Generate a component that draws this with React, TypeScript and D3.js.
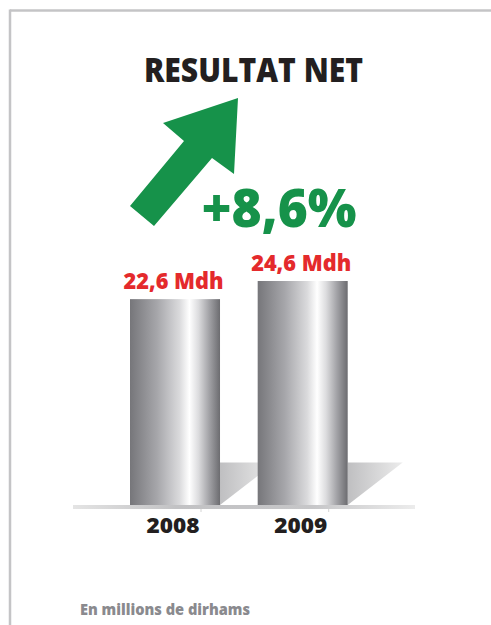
import React from "react";
import * as d3 from "d3";

const years = ["2008", "2009"];
const values = [22.6, 24.6];
const valueLabels = ["22,6 Mdh", "24,6 Mdh"];
const title = "RESULTAT NET";
const growthLabel = "+8,6%";
const footnote = "En millions de dirhams";

const W = 491;
const H = 625;
const FONT = "'Open Sans', 'Noto Sans', sans-serif";

export default function App() {
  const baseY = 505;
  const x = d3.scaleBand<string>().domain(years).range([130, 347.7]).paddingInner(0.295).paddingOuter(0);
  const y = d3.scaleLinear().domain([0, 24.6]).range([baseY, 282]);
  const bw = x.bandwidth();

  const arrow: [number, number][] = [
    [238, 98], [163, 123], [184, 141], [130, 206], [154, 226], [212, 158], [234, 174],
  ];
  const arrowPath = d3.line()(arrow) + "Z";

  return (
    <svg width={W} height={H} style={{ position: "absolute", left: 0, top: 0, background: "#fff" }}>
      <defs>
        <linearGradient id="barGrad" x1="0" x2="1" y1="0" y2="0">
          <stop offset="0" stopColor="#76767a" />
          <stop offset="0.3" stopColor="#a6a6aa" />
          <stop offset="0.55" stopColor="#dadadc" />
          <stop offset="0.66" stopColor="#ffffff" />
          <stop offset="0.76" stopColor="#dcdcde" />
          <stop offset="0.88" stopColor="#a2a2a6" />
          <stop offset="1" stopColor="#6c6c70" />
        </linearGradient>
        <linearGradient id="shadowGrad" x1="0" x2="1" y1="0" y2="0">
          <stop offset="0" stopColor="#bfbfc1" />
          <stop offset="1" stopColor="#ececec" />
        </linearGradient>
        <linearGradient id="baseGrad" x1="0" x2="1" y1="0" y2="0">
          <stop offset="0" stopColor="#e4e4e4" />
          <stop offset="0.3" stopColor="#c2c2c4" />
          <stop offset="0.7" stopColor="#c6c6c8" />
          <stop offset="1" stopColor="#ececec" />
        </linearGradient>
      </defs>

      {/* frame */}
      <line x1={10} y1={10.5} x2={W} y2={10.5} stroke="#c4c4c6" strokeWidth={2.5} />
      <line x1={10} y1={9.5} x2={10} y2={H} stroke="#c4c4c6" strokeWidth={2.5} />

      {/* title */}
      <text x={253.5} y={82} textAnchor="middle" fontFamily={FONT} fontWeight={800} fontSize={33}
        fill="#231f20" textLength={219} lengthAdjust="spacingAndGlyphs">{title}</text>

      {/* arrow */}
      <path d={arrowPath} fill="#16924a" />

      {/* growth */}
      <text x={279} y={226.5} textAnchor="middle" fontFamily={FONT} fontWeight={800} fontSize={53}
        fill="#16924a" textLength={155} lengthAdjust="spacingAndGlyphs">{growthLabel}</text>

      {/* shadows */}
      {years.map((yr) => {
        const rx = (x(yr) as number) + bw;
        return (
          <path key={"s" + yr}
            d={`M${rx},462.5 L${rx + 55},462.5 L${rx},${baseY} Z`}
            fill="url(#shadowGrad)" />
        );
      })}

      {/* bars */}
      {years.map((yr, i) => (
        <rect key={"b" + yr} x={x(yr)} y={y(values[i]) - 1} width={bw} height={baseY - y(values[i]) + 1}
          fill="url(#barGrad)" />
      ))}

      {/* baseline */}
      <rect x={73} y={505} width={342} height={4} fill="url(#baseGrad)" />
      {years.map((yr) => (
        <line key={"t" + yr} x1={(x(yr) as number) + bw - 19} x2={(x(yr) as number) + bw - 19} y1={509} y2={512}
          stroke="#d4d4d4" strokeWidth={1} />
      ))}

      {/* value labels */}
      {years.map((yr, i) => (
        <text key={"v" + yr} x={(x(yr) as number) + bw / 2 - 1.5} y={y(values[i]) - 11} textAnchor="middle"
          fontFamily={FONT} fontWeight={800} fontSize={22.5} fill="#e42a2c"
          textLength={100} lengthAdjust="spacingAndGlyphs">{valueLabels[i]}</text>
      ))}

      {/* year labels */}
      {years.map((yr) => (
        <text key={"y" + yr} x={(x(yr) as number) + bw / 2 - 2} y={533} textAnchor="middle"
          fontFamily={FONT} fontWeight={800} fontSize={21} fill="#231f20"
          textLength={53} lengthAdjust="spacingAndGlyphs">{yr}</text>
      ))}

      {/* footnote */}
      <text x={80} y={615} fontFamily={FONT} fontWeight={800} fontSize={15.5} fill="#8a8a8e"
        textLength={170} lengthAdjust="spacingAndGlyphs">{footnote}</text>
    </svg>
  );
}
